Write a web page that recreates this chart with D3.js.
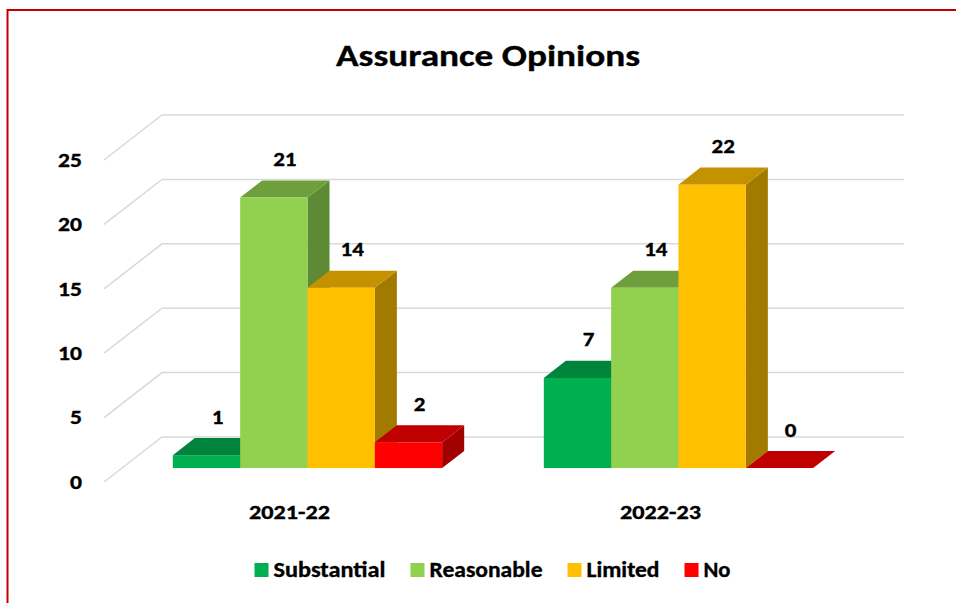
<!DOCTYPE html>
<html>
<head>
<meta charset="utf-8">
<script src="https://cdn.jsdelivr.net/npm/d3@7"></script>
<style>
  html, body { margin: 0; padding: 0; background: #fff; }
  svg { display: block; }
  text { font-family: Carlito, Calibri, "Open Sans", Lato, sans-serif; font-weight: 700; fill: #000; stroke: #000; stroke-width: 0.35px; }
</style>
</head>
<body>
<svg id="chart" width="956" height="603"></svg>
<script>
// ---- data ----
const categories = ["2021-22", "2022-23"];
const seriesNames = ["Substantial", "Reasonable", "Limited", "No"];
const substantial = [1, 7];
const reasonable = [21, 14];
const limited = [14, 22];
const noOpinion = [2, 0];
const yTicks = [0, 5, 10, 15, 20, 25];
const title = "Assurance Opinions";

// ---- styles ----
const frontColors = ["#00B050", "#92D050", "#FFC000", "#FF0000"];
const topColors   = ["#00843C", "#6F9E3C", "#C49200", "#C00000"];
const sideColors  = ["#006E32", "#5E8A35", "#A27A00", "#A00000"];

const seriesValues = [substantial, reasonable, limited, noOpinion];

const svg = d3.select("#chart");
const stretch = 1.15;

// outer border
svg.append("rect").attr("x", 7.5).attr("y", 10).attr("width", 960).attr("height", 600)
  .attr("fill", "none").attr("stroke", "#C00000").attr("stroke-width", 2);

// title
svg.append("text").attr("x", 488).attr("y", 66).attr("text-anchor", "middle")
  .attr("textLength", 304).attr("lengthAdjust", "spacingAndGlyphs")
  .style("font-size", "31px").text(title);

// ---- 3D geometry ----
const frontLeft = 104, frontRight = 846;
const depthX = 58, depthY = -45;
const proj = (x, y, d) => [x + depthX * d, y + depthY * d];

const x = d3.scaleBand().domain(categories).range([frontLeft, frontRight])
  .paddingInner(0.274).paddingOuter(0.137);
const xs = d3.scaleBand().domain(seriesNames).range([0, x.bandwidth()]).padding(0);
const y = d3.scaleLinear().domain([0, 25]).range([482, 160]);

const barD0 = 0.31, barD1 = 0.69;

// gridlines (side wall diagonal + back wall horizontal)
const gridG = svg.append("g");
yTicks.forEach(t => {
  const p0 = proj(frontLeft, y(t), 0);
  const p1 = proj(frontLeft, y(t), 1);
  const p2 = proj(frontRight, y(t), 1);
  gridG.append("polyline")
    .attr("points", [p0, p1, p2].map(p => p.join(",")).join(" "))
    .attr("fill", "none").attr("stroke", "#D9D9D9").attr("stroke-width", 1.5);
});

// y-axis labels
svg.append("g").selectAll("text").data(yTicks).join("text")
  .attr("transform", d => `translate(82,${y(d)}) scale(${stretch},1)`)
  .attr("dy", "0.33em")
  .attr("text-anchor", "end").style("font-size", "20.5px").text(d => d);

// bars
const barsG = svg.append("g");
const labels = [];
categories.forEach((cat, ci) => {
  seriesNames.forEach((s, si) => {
    const v = seriesValues[si][ci];
    const xl = x(cat) + xs(s), xr = xl + xs.bandwidth();
    const yb = y(0), yt = y(v);
    const poly = pts => pts.map(p => p.join(",")).join(" ");
    // side face
    barsG.append("polygon")
      .attr("points", poly([proj(xr, yt, barD0), proj(xr, yb, barD0), proj(xr, yb, barD1), proj(xr, yt, barD1)]))
      .attr("fill", sideColors[si]);
    // top face
    barsG.append("polygon")
      .attr("points", poly([proj(xl, yt, barD0), proj(xr, yt, barD0), proj(xr, yt, barD1), proj(xl, yt, barD1)]))
      .attr("fill", topColors[si]);
    // front face
    if (v > 0) {
      const a = proj(xl, yt, barD0), b = proj(xr, yb, barD0);
      barsG.append("rect").attr("x", a[0]).attr("y", a[1])
        .attr("width", b[0] - a[0]).attr("height", b[1] - a[1])
        .attr("fill", frontColors[si]);
    }
    const c = proj((xl + xr) / 2, yt, (barD0 + barD1) / 2);
    labels.push({ v: v, x: c[0], y: c[1] - 23 });
  });
});

// data labels
svg.append("g").selectAll("text").data(labels).join("text")
  .attr("transform", d => `translate(${d.x},${d.y}) scale(${stretch},1)`)
  .attr("text-anchor", "middle")
  .style("font-size", "20px").text(d => d.v);

// category labels (centered on floor front edge)
svg.append("g").selectAll("text").data(categories).join("text")
  .attr("x", d => x(d) + x.bandwidth() / 2).attr("y", 519)
  .attr("text-anchor", "middle").attr("textLength", 81).attr("lengthAdjust", "spacingAndGlyphs")
  .style("font-size", "20px").text(d => d);

// legend
const legendWidths = [112, 113, 73, 27];
const legendG = svg.append("g");
let cursor = 0;
seriesNames.forEach((s, i) => {
  const g = legendG.append("g").attr("transform", `translate(${cursor},577)`);
  g.append("rect").attr("x", 0).attr("y", -14).attr("width", 14).attr("height", 14).attr("fill", frontColors[i]);
  g.append("text").attr("x", 19).attr("y", 0)
    .attr("textLength", legendWidths[i]).attr("lengthAdjust", "spacingAndGlyphs")
    .style("font-size", "22.5px").text(s);
  cursor += 19 + legendWidths[i] + 25;
});
const totalW = cursor - 25;
legendG.attr("transform", `translate(${492.5 - totalW / 2},0)`);
</script>
</body>
</html>
